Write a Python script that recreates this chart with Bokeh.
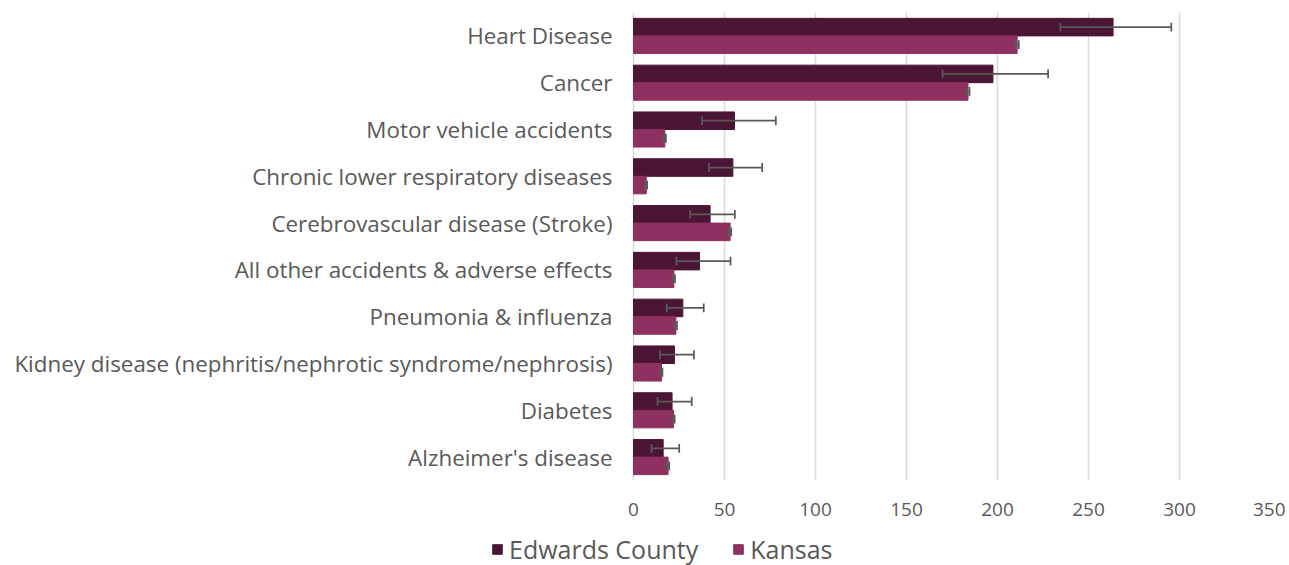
from bokeh.plotting import figure
from bokeh.layouts import column
from bokeh.models import ColumnDataSource, FactorRange, Legend, LegendItem, Range1d, FixedTicker
from bokeh.core.properties import value
from bokeh.transform import dodge
from bokeh.embed import file_html
from bokeh.resources import INLINE

causes = ["Heart Disease", "Cancer", "Motor vehicle accidents", "Chronic lower respiratory diseases",
          "Cerebrovascular disease (Stroke)", "All other accidents & adverse effects",
          "Pneumonia & influenza", "Kidney disease (nephritis/nephrotic syndrome/nephrosis)",
          "Diabetes", "Alzheimer's disease"]
county = [263.5, 197.5, 55.5, 54.6, 42.1, 36.3, 27.1, 22.5, 21.2, 16.3]
county_lo = [234.5, 169.8, 37.7, 41.6, 31.1, 23.6, 18.3, 14.5, 13.2, 9.9]
county_hi = [295.5, 227.8, 78.2, 70.7, 55.7, 53.3, 38.6, 33.2, 32.0, 25.1]
kansas = [210.8, 183.8, 17.2, 7.0, 53.1, 22.2, 23.3, 15.4, 22.0, 19.0]
kansas_lo = [209.9, 183.0, 16.6, 6.5, 52.5, 21.6, 22.7, 14.9, 21.4, 18.4]
kansas_hi = [211.7, 184.6, 17.8, 7.5, 53.7, 22.8, 23.9, 15.9, 22.6, 19.6]
ticks = [0, 50, 100, 150, 200, 250, 300, 350]
series = ["Edwards County", "Kansas"]

C_COUNTY = "#4B1535"
C_KANSAS = "#8E3060"
GREY = "#595959"
FONT = "Open Sans"

src = ColumnDataSource(dict(cause=causes, county=county, county_lo=county_lo, county_hi=county_hi,
                            kansas=kansas, kansas_lo=kansas_lo, kansas_hi=kansas_hi))

# layout: value 0 sits at x=633px, 350 at x=1270px; frame spans from the left edge
W, H1, H2 = 1285, 522, 43
X0PX, X350PX = 633, 1270
x_start = -X0PX * 350 / (X350PX - X0PX)

p = figure(y_range=FactorRange(factors=causes[::-1], range_padding=0),
           x_range=Range1d(x_start, 350), width=W, height=H1,
           output_backend="svg", toolbar_location=None,
           min_border_left=0, min_border_right=W - X350PX, min_border_top=12,
           min_border_bottom=H1 - 480)

p.hbar(y=dodge("cause", 0.1875, range=p.y_range), right="county", height=0.375, source=src,
       fill_color=C_COUNTY, line_color=C_COUNTY)
p.hbar(y=dodge("cause", -0.1875, range=p.y_range), right="kansas", height=0.375, source=src,
       fill_color=C_KANSAS, line_color=C_KANSAS)

cap = 0.095
for lo, hi, off in [("county_lo", "county_hi", 0.1875), ("kansas_lo", "kansas_hi", -0.1875)]:
    yc = dodge("cause", off, range=p.y_range)
    p.segment(x0=lo, x1=hi, y0=yc, y1=yc, source=src, line_color=GREY, line_width=1.75)
    for end in (lo, hi):
        p.segment(x0=end, x1=end, y0=dodge("cause", off - cap, range=p.y_range),
                  y1=dodge("cause", off + cap, range=p.y_range), source=src,
                  line_color=GREY, line_width=1.75)

# category labels (real text), right-aligned just left of the zero line
p.text(x=0, y="cause", text="cause", source=src, x_offset=-21, text_align="right",
       text_baseline="middle", text_font=value(FONT), text_font_size="22.4px", text_color=GREY)

p.outline_line_color = None
p.ygrid.grid_line_color = None
p.yaxis.visible = False
p.xgrid.grid_line_color = "#D9D9D9"
p.xgrid.grid_line_width = 1.5
p.xaxis.ticker = FixedTicker(ticks=ticks)
p.xaxis.axis_line_color = None
p.xaxis.major_tick_line_color = None
p.xaxis.minor_tick_line_color = None
p.xaxis.major_label_text_font = FONT
p.xaxis.major_label_text_font_size = "19px"
p.xaxis.major_label_text_color = GREY
p.xaxis.major_label_standoff = 16

# legend strip (proxy renderers kept outside the visible range)
lg = figure(width=W, height=H2, x_range=Range1d(0, 1), y_range=Range1d(0, 1),
            output_backend="svg", toolbar_location=None,
            min_border_left=0, min_border_right=W - X350PX, min_border_top=0, min_border_bottom=0)
lg.axis.visible = False
lg.grid.visible = False
lg.outline_line_color = None
proxy = ColumnDataSource(dict(y=[-10], right=[-10]))
r1 = lg.hbar(y="y", right="right", left=-11, height=0.5, source=proxy,
             fill_color=C_COUNTY, line_color=C_COUNTY)
r2 = lg.hbar(y="y", right="right", left=-11, height=0.5, source=proxy,
             fill_color=C_KANSAS, line_color=C_KANSAS)
legend = Legend(items=[LegendItem(label=series[0], renderers=[r1]),
                       LegendItem(label=series[1], renderers=[r2])],
                orientation="horizontal", location=(491, -1),
                label_text_font=FONT, label_text_font_size="25px", label_text_color=GREY,
                glyph_width=12, glyph_height=12, spacing=34, label_standoff=6,
                border_line_color=None, background_fill_alpha=0, padding=0, margin=0)
lg.add_layout(legend)

open("out.html", "w").write(file_html(column(p, lg, spacing=0), INLINE))
